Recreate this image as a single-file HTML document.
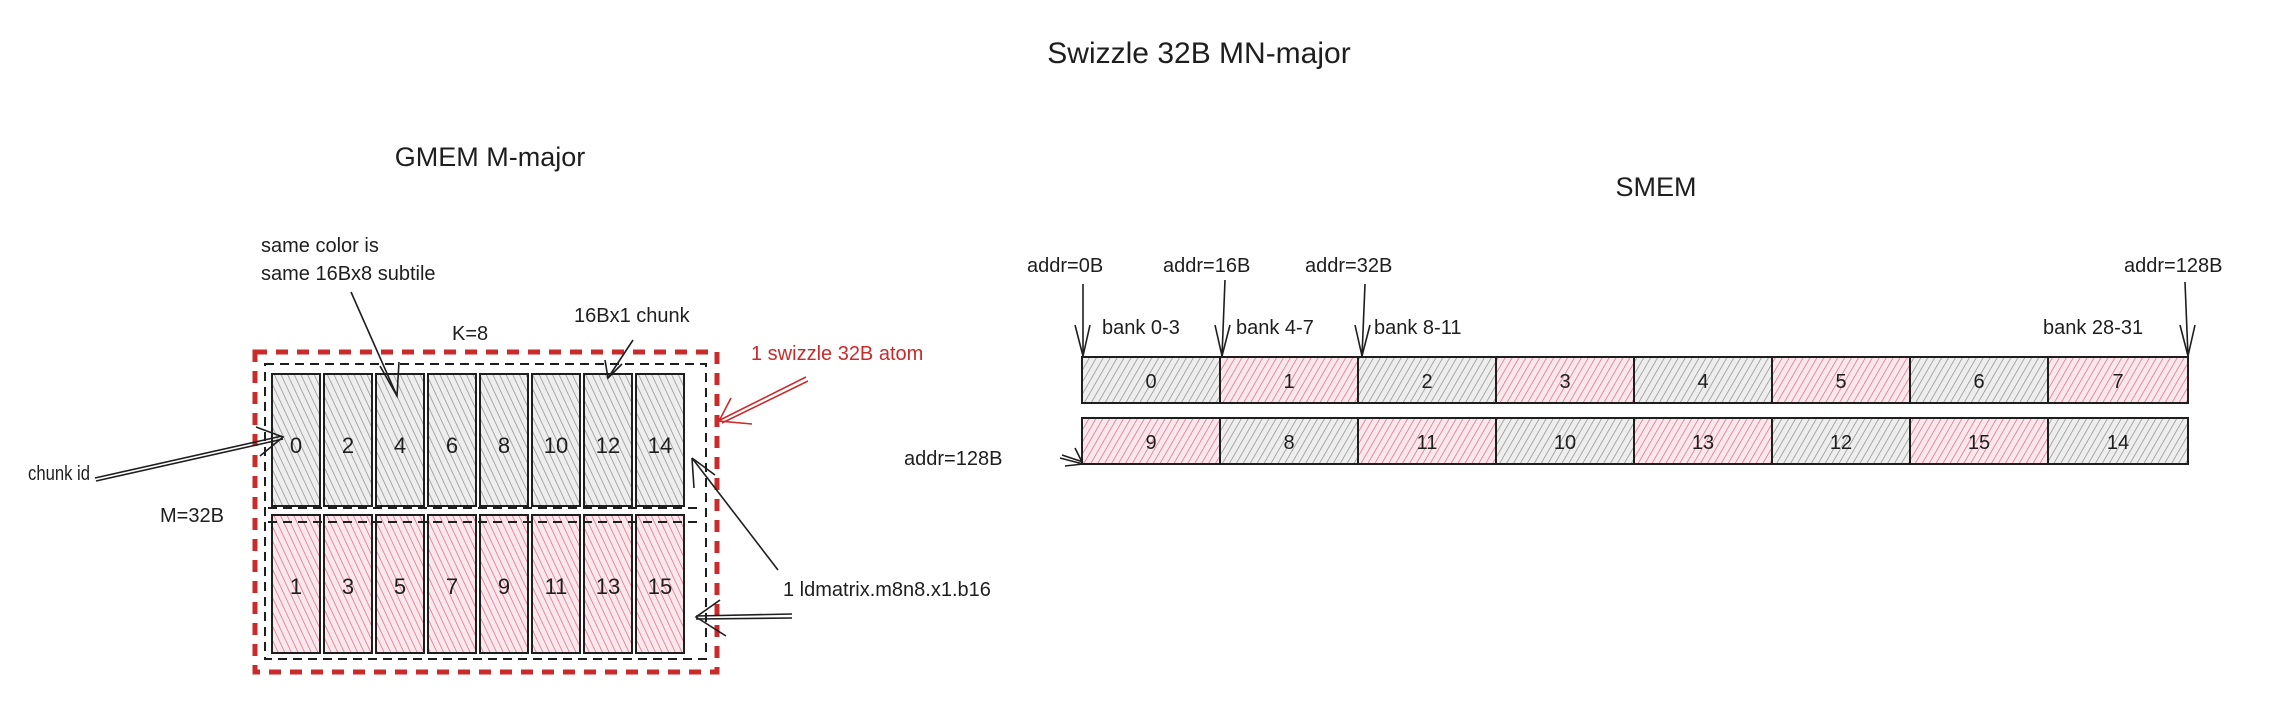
<!DOCTYPE html>
<html><head><meta charset="utf-8"><style>
html,body{margin:0;padding:0;background:#fff;}
svg{display:block;}
text{font-family:"Liberation Sans",sans-serif;fill:#1e1e1e;}
</style></head><body>
<svg width="2272" height="702" viewBox="0 0 2272 702" xmlns="http://www.w3.org/2000/svg">
<defs>
<pattern id="gL" width="6" height="6" patternUnits="userSpaceOnUse" patternTransform="rotate(-25)">
<rect width="6" height="6" fill="#eeeeee"/><line x1="0" y1="0" x2="0" y2="6" stroke="#8a8a8a" stroke-width="1.4"/></pattern>
<pattern id="pL" width="6" height="6" patternUnits="userSpaceOnUse" patternTransform="rotate(-25)">
<rect width="6" height="6" fill="#fae8ed"/><line x1="0" y1="0" x2="0" y2="6" stroke="#dc6484" stroke-width="1.4"/></pattern>
<pattern id="gR" width="6" height="6" patternUnits="userSpaceOnUse" patternTransform="rotate(30)">
<rect width="6" height="6" fill="#eeeeee"/><line x1="0" y1="0" x2="0" y2="6" stroke="#8a8a8a" stroke-width="1.4"/></pattern>
<pattern id="pR" width="6" height="6" patternUnits="userSpaceOnUse" patternTransform="rotate(30)">
<rect width="6" height="6" fill="#fae8ed"/><line x1="0" y1="0" x2="0" y2="6" stroke="#dc6484" stroke-width="1.4"/></pattern>
</defs>

<text x="1199" y="63" font-size="30" text-anchor="middle">Swizzle 32B MN-major</text>
<text x="490" y="166" font-size="27" text-anchor="middle">GMEM M-major</text>
<text x="1656" y="196" font-size="27" text-anchor="middle">SMEM</text>

<!-- GMEM -->
<rect x="255" y="352" width="462" height="320" fill="none" stroke="#c92a2a" stroke-width="5" stroke-dasharray="12 9"/>
<rect x="265" y="364" width="441" height="295" fill="none" stroke="#1e1e1e" stroke-width="2" stroke-dasharray="9 6"/>
<g stroke="#1e1e1e" stroke-width="2">
<rect x="272" y="374" width="48" height="132" fill="url(#gL)"/>
<rect x="324" y="374" width="48" height="132" fill="url(#gL)"/>
<rect x="376" y="374" width="48" height="132" fill="url(#gL)"/>
<rect x="428" y="374" width="48" height="132" fill="url(#gL)"/>
<rect x="480" y="374" width="48" height="132" fill="url(#gL)"/>
<rect x="532" y="374" width="48" height="132" fill="url(#gL)"/>
<rect x="584" y="374" width="48" height="132" fill="url(#gL)"/>
<rect x="636" y="374" width="48" height="132" fill="url(#gL)"/>
<rect x="272" y="515" width="48" height="138" fill="url(#pL)"/>
<rect x="324" y="515" width="48" height="138" fill="url(#pL)"/>
<rect x="376" y="515" width="48" height="138" fill="url(#pL)"/>
<rect x="428" y="515" width="48" height="138" fill="url(#pL)"/>
<rect x="480" y="515" width="48" height="138" fill="url(#pL)"/>
<rect x="532" y="515" width="48" height="138" fill="url(#pL)"/>
<rect x="584" y="515" width="48" height="138" fill="url(#pL)"/>
<rect x="636" y="515" width="48" height="138" fill="url(#pL)"/>
</g>
<line x1="268" y1="508" x2="700" y2="508" stroke="#1e1e1e" stroke-width="2" stroke-dasharray="9 6"/>
<line x1="268" y1="522" x2="700" y2="522" stroke="#1e1e1e" stroke-width="2" stroke-dasharray="9 6"/>
<g font-size="22" text-anchor="middle">
<text x="296" y="453">0</text><text x="348" y="453">2</text><text x="400" y="453">4</text><text x="452" y="453">6</text>
<text x="504" y="453">8</text><text x="556" y="453">10</text><text x="608" y="453">12</text><text x="660" y="453">14</text>
<text x="296" y="594">1</text><text x="348" y="594">3</text><text x="400" y="594">5</text><text x="452" y="594">7</text>
<text x="504" y="594">9</text><text x="556" y="594">11</text><text x="608" y="594">13</text><text x="660" y="594">15</text>
</g>
<g font-size="20">
<text x="261" y="252">same color is</text>
<text x="261" y="280">same 16Bx8 subtile</text>
<text x="452" y="340">K=8</text>
<text x="574" y="322">16Bx1 chunk</text>
<text x="751" y="360" style="fill:#c92a2a">1 swizzle 32B atom</text>
<text x="28" y="480" textLength="62" lengthAdjust="spacingAndGlyphs">chunk id</text>
<text x="160" y="522">M=32B</text>
<text x="783" y="596">1 ldmatrix.m8n8.x1.b16</text>
</g>
<g stroke="#1e1e1e" stroke-width="1.6" fill="none">
<path d="M351 292 L397 396"/><path d="M380 366 L397 396 L399 362"/>
<path d="M633 340 L608 378"/><path d="M605 360 L608 378 L622 364"/>
<path d="M95 478 L282 436"/><path d="M96 481 L283 439"/><path d="M256 427 L283 437 L260 456"/>
<path d="M778 570 L692 458"/><path d="M692 458 L694 488 M692 458 L715 475"/>
<path d="M792 614 L696 616"/><path d="M792 618 L696 619"/><path d="M720 600 L696 617 L726 636"/>
</g>
<g stroke="#c92a2a" stroke-width="1.6" fill="none">
<path d="M806 377 L720 420"/><path d="M808 381 L722 423"/><path d="M731 398 L719 421 L752 424"/>
</g>

<!-- SMEM -->
<g stroke="#1e1e1e" stroke-width="2">
<rect x="1082" y="357" width="138" height="46" fill="url(#gR)"/>
<rect x="1220" y="357" width="138" height="46" fill="url(#pR)"/>
<rect x="1358" y="357" width="138" height="46" fill="url(#gR)"/>
<rect x="1496" y="357" width="138" height="46" fill="url(#pR)"/>
<rect x="1634" y="357" width="138" height="46" fill="url(#gR)"/>
<rect x="1772" y="357" width="138" height="46" fill="url(#pR)"/>
<rect x="1910" y="357" width="138" height="46" fill="url(#gR)"/>
<rect x="2048" y="357" width="140" height="46" fill="url(#pR)"/>
<rect x="1082" y="418" width="138" height="46" fill="url(#pR)"/>
<rect x="1220" y="418" width="138" height="46" fill="url(#gR)"/>
<rect x="1358" y="418" width="138" height="46" fill="url(#pR)"/>
<rect x="1496" y="418" width="138" height="46" fill="url(#gR)"/>
<rect x="1634" y="418" width="138" height="46" fill="url(#pR)"/>
<rect x="1772" y="418" width="138" height="46" fill="url(#gR)"/>
<rect x="1910" y="418" width="138" height="46" fill="url(#pR)"/>
<rect x="2048" y="418" width="140" height="46" fill="url(#gR)"/>
</g>
<g font-size="20" text-anchor="middle">
<text x="1151" y="388">0</text><text x="1289" y="388">1</text><text x="1427" y="388">2</text><text x="1565" y="388">3</text>
<text x="1703" y="388">4</text><text x="1841" y="388">5</text><text x="1979" y="388">6</text><text x="2118" y="388">7</text>
<text x="1151" y="449">9</text><text x="1289" y="449">8</text><text x="1427" y="449">11</text><text x="1565" y="449">10</text>
<text x="1703" y="449">13</text><text x="1841" y="449">12</text><text x="1979" y="449">15</text><text x="2118" y="449">14</text>
</g>
<g font-size="20">
<text x="1027" y="272">addr=0B</text>
<text x="1163" y="272">addr=16B</text>
<text x="1305" y="272">addr=32B</text>
<text x="2124" y="272">addr=128B</text>
<text x="1102" y="334">bank 0-3</text>
<text x="1236" y="334">bank 4-7</text>
<text x="1374" y="334">bank 8-11</text>
<text x="2043" y="334">bank 28-31</text>
<text x="904" y="465">addr=128B</text>
</g>
<g stroke="#1e1e1e" stroke-width="1.6" fill="none">
<path d="M1083 284 L1083 356"/><path d="M1075 325 L1083 356 L1090 325"/>
<path d="M1225 280 L1222 356"/><path d="M1215 325 L1222 356 L1230 325"/>
<path d="M1365 284 L1362 356"/><path d="M1355 325 L1362 356 L1370 325"/>
<path d="M2185 282 L2188 356"/><path d="M2180 325 L2188 356 L2195 325"/>
<path d="M1060 458 L1083 464"/><path d="M1062 455 L1083 462"/><path d="M1075 448 L1083 464 L1065 466"/>
</g>
</svg>
</body></html>
